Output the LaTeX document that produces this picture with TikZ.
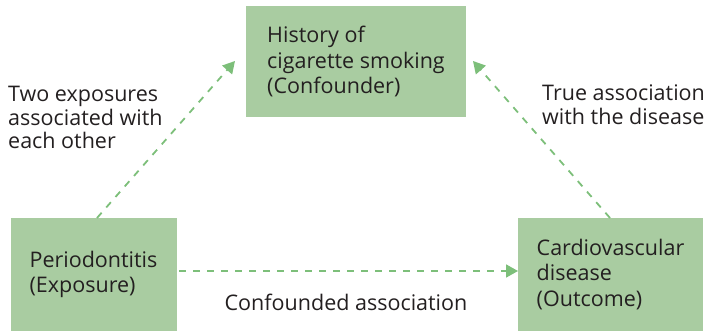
\documentclass[tikz,border=0pt]{standalone}
\usepackage{fontspec}
\setmainfont{Open Sans}
\usetikzlibrary{arrows.meta}
\definecolor{boxfill}{HTML}{A9CCA1}
\definecolor{linkgreen}{HTML}{7DBF7A}
\definecolor{ink}{HTML}{231F20}
\begin{document}
\begin{tikzpicture}[x=1pt,y=-1pt,
  every node/.style={text=ink,font=\fontsize{21.5}{25.5}\selectfont},
  factor/.style={fill=boxfill,draw=none,align=left,inner sep=0pt},
  link/.style={draw=linkgreen,line width=1.8pt,dash pattern=on 7pt off 7pt,
    -{Triangle[length=12pt,width=13pt]}},
  note/.style={align=left,inner sep=0pt,font=\fontsize{21.5}{23.5}\selectfont}]
\useasboundingbox (0,0) rectangle (710,331);
% the three factors
\node[factor,minimum width=220pt,minimum height=111pt] (conf) at (356,61.5)
  {History of\\cigarette smoking\\(Confounder)};
\node[factor,minimum width=166pt,minimum height=113pt] (expo) at (93.5,274.5)
  {Periodontitis\\(Exposure)};
\node[factor,minimum width=185pt,minimum height=113pt] (outc) at (610.5,274.5)
  {Cardiovascular\\disease\\(Outcome)};
% link end points
\coordinate (e1) at (97,218);
\coordinate (t1) at (235,61);
\coordinate (e2) at (610,218);
\coordinate (t2) at (473,61);
\coordinate (e3) at (179,271);
\coordinate (t3) at (518,271);
% links
\draw[link] (e1) -- (t1);
\draw[link] (e2) -- (t2);
\draw[link] (e3) -- (t3);
% labels
\node[note,anchor=north west] (lab1) at (8,86) {Two exposures\\associated with\\each other};
\node[note,anchor=north west] (lab2) at (542,85) {True association\\with the disease};
\node[inner sep=0pt] (lab3) at (346,302) {Confounded association};
\end{tikzpicture}
\end{document}
